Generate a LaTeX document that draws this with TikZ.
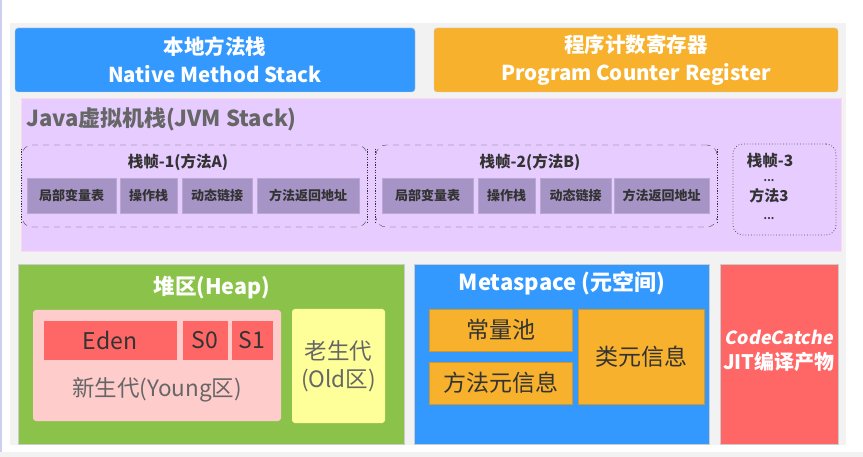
\documentclass[tikz,border=0pt]{standalone}
\usepackage{fontspec}
\setmainfont{Noto Sans CJK SC}
\newfontfamily\codefont[FakeSlant=0.18]{Noto Sans CJK SC}
\usepackage{xcolor}
\definecolor{figbg}{HTML}{F2F2F2}
\definecolor{figblue}{HTML}{3399FF}
\definecolor{figorange}{HTML}{F7B12D}
\definecolor{figlilac}{HTML}{E6CCFF}
\definecolor{figcell}{HTML}{A794C6}
\definecolor{figgreen}{HTML}{8BC34A}
\definecolor{figpink}{HTML}{FFCCCC}
\definecolor{figred}{HTML}{FF6666}
\definecolor{figyellow}{HTML}{FFFF99}
\definecolor{figgrey}{HTML}{666666}
\definecolor{figink}{HTML}{333333}
\tikzset{
  area/.style={inner sep=0pt,align=center,draw=white!80!black,line width=0.4pt},
  title/.style={text=white,font=\bfseries\fontsize{20.5}{28}\selectfont,align=center,inner sep=0pt},
  cell/.style={fill=figcell,draw=figcell!80!white,inner sep=0pt,minimum height=35pt,
    text=figink,font=\bfseries\fontsize{13}{14}\selectfont},
  frame/.style={rounded corners=10pt,inner sep=0pt},
  framelabel/.style={inner sep=0pt,text=figink,font=\bfseries\fontsize{15.5}{17}\selectfont},
  big/.style={text=figgrey,font=\fontsize{22.5}{28}\selectfont,align=center,inner sep=0pt},
  part/.style={inner sep=0pt,text=figink,font=\fontsize{23}{26}\selectfont,align=center}
}

\begin{document}
\begin{tikzpicture}[x=1pt,y=-1pt]
    \useasboundingbox (0,0) rectangle (863,457);
    \fill[white] (0,0) rectangle (863,457);
    \fill[figbg] (10,23) rectangle (846,445);
    \fill[figbg] (0,452) rectangle (863,457);
    \fill[gray!45!blue!25] (0,0) rectangle (2,452);
    % top row
    \node[area,fill=figblue,rounded corners=3pt,minimum width=400pt,minimum height=64pt] (native) at (215,60) {};
    \node[title] (nativetxt) at (native.center) {本地方法栈\\Native Method Stack};
    \node[area,fill=figorange,rounded corners=3pt,minimum width=404pt,minimum height=64pt] (pcr) at (636,60) {};
    \node[title] (pcrtxt) at (pcr.center) {程序计数寄存器\\Program Counter Register};
    % jvm stack
    \node[area,fill=figlilac,draw=magenta!15,minimum width=820pt,minimum height=153pt] (jvm) at (431,174.5) {};
    \node[anchor=west,inner sep=0pt,text=figgrey,font=\bfseries\fontsize{22}{24}\selectfont] (jvmtxt) at (26,119) {Java虚拟机栈(JVM Stack)};
    \node[frame,draw=gray!60!black,dash pattern=on 6pt off 5pt,minimum width=345pt,minimum height=82pt] (fr1) at (194.5,186) {};
    \node[frame,draw=gray!60!black,dash pattern=on 6pt off 5pt,minimum width=341pt,minimum height=82pt] (fr2) at (546.5,186) {};
    \foreach \fr in {fr1,fr2} {
      \draw[figlilac,line width=1.6pt] ([yshift=-9pt]\fr.north west) -- ([yshift=9pt]\fr.south west);
      \draw[figlilac,line width=1.6pt] ([yshift=-9pt]\fr.north east) -- ([yshift=9pt]\fr.south east);
      \draw[black!80,line width=1.3pt,dash pattern=on 1.3pt off 1.3pt] ([yshift=-4pt]\fr.north west) -- ([yshift=4pt]\fr.south west);
      \draw[black!80,line width=1.3pt,dash pattern=on 1.3pt off 1.3pt] ([yshift=-4pt]\fr.north east) -- ([yshift=4pt]\fr.south east);
    }
    \node[framelabel] (fr1txt) at (178,162) {栈帧-1(方法A)};
    \node[framelabel] (fr2txt) at (530,162) {栈帧-2(方法B)};
    \foreach \n/\c/\w/\t in {a1/71.5/89/局部变量表, a2/148.5/57/操作栈, a3/217/70/动态链接, a4/308/102/方法返回地址,
                             b1/427.5/91/局部变量表, b2/506.5/57/操作栈, b3/575.5/71/动态链接, b4/661.5/95/方法返回地址}
      \node[cell,minimum width=\w pt] (\n) at (\c,195.5) {\t};
    \node[frame,draw=gray!70!black,dotted,thick,minimum width=103pt,minimum height=91pt] (fr3) at (784.5,189.5) {};
    \node[framelabel] (fr3txt) at (770,161) {栈帧-3};
    \node[inner sep=0pt,text=figink,font=\bfseries\fontsize{10}{12}\selectfont] (dotsa) at (769,181) {...};
    \node[inner sep=0pt,text=figink,font=\bfseries\fontsize{15}{16}\selectfont] (m3) at (769,196) {方法3};
    \node[inner sep=0pt,text=figink,font=\bfseries\fontsize{10}{12}\selectfont] (dotsb) at (769,219) {...};
    % heap
    \node[area,fill=figgreen,minimum width=386pt,minimum height=180pt] (heap) at (211,354) {};
    \node[title,font=\bfseries\fontsize{21.5}{24}\selectfont] (heaptxt) at (212,288) {堆区(Heap)};
    \node[area,fill=figpink,draw=none,rounded corners=3pt,minimum width=248pt,minimum height=111pt] (young) at (157,365.5) {};
    \node[part,fill=figred,draw=figpink,minimum width=134pt,minimum height=40pt] (eden) at (110,340) {Eden};
    \node[part,fill=figred,draw=figpink,minimum width=46pt,minimum height=40pt] (s0) at (205,340) {S0};
    \node[part,fill=figred,draw=figpink,minimum width=42pt,minimum height=40pt] (s1) at (252,340) {S1};
    \node[big] (youngtxt) at (157,390) {新生代(Young区)};
    \node[area,fill=figyellow,draw=none,rounded corners=3pt,minimum width=93pt,minimum height=114pt] (old) at (338.5,366) {};
    \node[big] (oldtxt) at (old.center) {老生代\\(Old区)};
    % metaspace
    \node[area,fill=figblue,minimum width=295pt,minimum height=180pt] (meta) at (561.5,354) {};
    \node[title,font=\bfseries\fontsize{22}{24}\selectfont] (metatxt) at (562,283) {Metaspace (元空间)};
    \node[part,fill=figorange,draw=figorange!85!black,minimum width=143pt,minimum height=42pt] (pool) at (500.5,330) {常量池};
    \node[part,fill=figorange,draw=figorange!85!black,minimum width=143pt,minimum height=42pt] (minfo) at (500.5,383) {方法元信息};
    \node[part,fill=figorange,draw=figorange!85!black,minimum width=126pt,minimum height=95pt] (cinfo) at (641,356.5) {类元信息};
    % code cache
    \node[area,fill=figred,minimum width=118pt,minimum height=180pt] (code) at (779,354) {};
    \node[title,font=\bfseries\fontsize{20}{25}\selectfont] (codetxt) at (779,350.5) {{\codefont\bfseries\fontsize{18}{25}\selectfont CodeCatche}\\JIT编译产物};
\end{tikzpicture}
\end{document}
